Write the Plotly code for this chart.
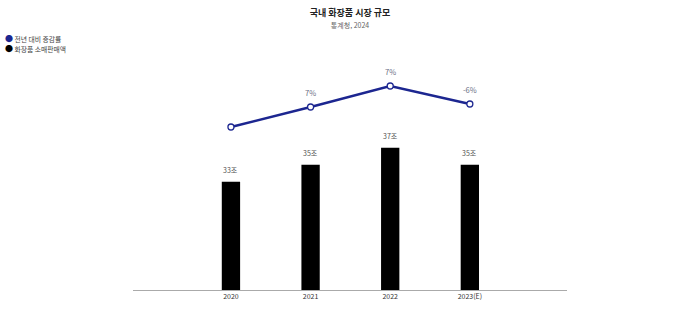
import plotly.graph_objects as go

years = ["2020", "2021", "2022", "2023(E)"]
sales = [33, 35, 37, 35]
sales_labels = ["33조", "35조", "37조", "35조"]
growth_pos = [2.0, 4.0, 6.1, 4.3]
growth_labels = ["", "7%", "7%", "-6%"]
legend_names = ["전년 대비 증감률", "화장품 소매판매액"]

FONT = "Noto Sans CJK KR"
NAVY = "#1c2690"
legend_colors = [NAVY, "#000000"]

fig = go.Figure()
fig.add_trace(go.Bar(
    x=years, y=sales, name=legend_names[1],
    marker=dict(color="#000000", line=dict(width=0)),
    width=0.23, showlegend=False,
))
fig.add_trace(go.Scatter(
    x=years, y=growth_pos, name=legend_names[0], yaxis="y2",
    mode="lines+markers",
    line=dict(color=NAVY, width=2.5),
    marker=dict(size=6, color="white", line=dict(color=NAVY, width=1.3)),
    showlegend=False, cliponaxis=False,
))

annotations = []
for i, (y, t) in enumerate(zip(sales, sales_labels)):
    annotations.append(dict(x=i, y=y, xref="x", yref="y", text=t, showarrow=False,
                            yshift=12, font=dict(size=7, color="#555555", family=FONT)))
for i, (y, t) in enumerate(zip(growth_pos, growth_labels)):
    if t:
        annotations.append(dict(x=i, y=y, xref="x", yref="y2", text=t, showarrow=False,
                                yshift=15, font=dict(size=7.5, color="#6b6f85", family=FONT)))

plot_l, plot_w, plot_b, plot_h = 133, 434, 33, 230
for i, (name, col) in enumerate(zip(legend_names, legend_colors)):
    px_x, px_y = 3, 323 - 38 - 10 * i
    annotations.append(dict(x=(px_x - plot_l) / plot_w, y=(px_y - plot_b) / plot_h,
                            xref="paper", yref="paper",
                            text=f"<span style='color:{col};font-size:8px'>●</span> {name}",
                            showarrow=False, xanchor="left", yanchor="middle",
                            font=dict(size=6.8, color="#444444", family=FONT)))

fig.update_layout(
    width=700, height=323,
    margin=dict(l=133, r=133, t=60, b=33),
    paper_bgcolor="white", plot_bgcolor="white",
    font=dict(family=FONT, size=7, color="#333333"),
    title=dict(
        text="<b>국내 화장품 시장 규모</b><br><span style='font-size:7px;color:#666666'>통계청, 2024</span>",
        x=0.5, xanchor="center", xref="container",
        y=0.95, yanchor="top", yref="container",
        font=dict(size=9, color="#222222", family=FONT),
    ),
    showlegend=False,
    annotations=annotations,
    xaxis=dict(
        type="category", range=[-1.23, 4.22],
        showgrid=False, showline=True, linecolor="#aaaaaa", linewidth=1,
        ticks="", tickfont=dict(size=7, color="#333333", family=FONT),
        fixedrange=True,
    ),
    yaxis=dict(range=[20.3, 47.3], visible=False, showgrid=False),
    yaxis2=dict(range=[-14.3, 8.7], overlaying="y", visible=False, showgrid=False),
)

fig.write_html("out.html")
